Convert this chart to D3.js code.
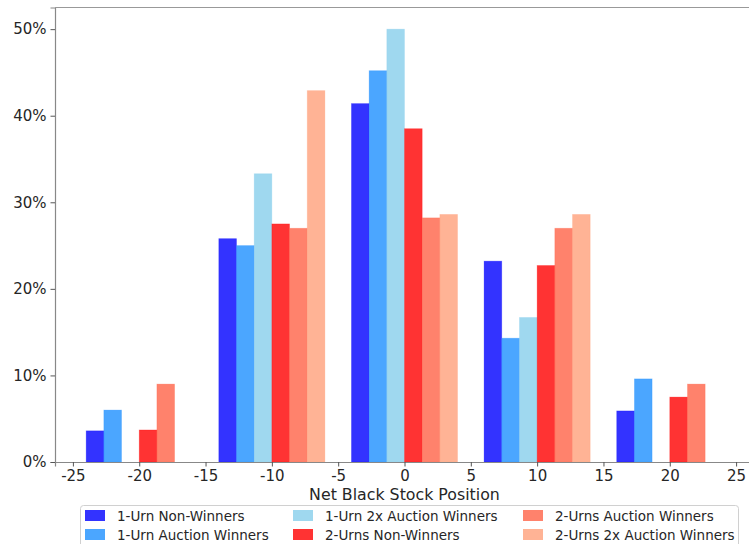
<!DOCTYPE html>
<html><head><meta charset="utf-8">
<script src="https://cdn.jsdelivr.net/npm/d3@7"></script>
<style>body{margin:0;background:#fff}svg{display:block;font-family:"DejaVu Sans",sans-serif}</style>
</head><body><svg id="c" width="749" height="544"></svg>
<script>
const groups = [-20, -10, 0, 10, 20];
const seriesNames = ["1-Urn Non-Winners","1-Urn Auction Winners","1-Urn 2x Auction Winners","2-Urns Non-Winners","2-Urns Auction Winners","2-Urns 2x Auction Winners"];
const seriesColors = ["#0000ff","#1e90ff","#87ceeb","#ff0000","#ff6347","#ffa07a"];
const urn1Non = [3.6, 25.8, 41.4, 23.2, 5.9];
const urn1Auction = [6.0, 25.0, 45.2, 14.3, 9.6];
const urn1x2 = [0, 33.3, 50.0, 16.7, 0];
const urns2Non = [3.7, 27.5, 38.5, 22.7, 7.5];
const urns2Auction = [9.0, 27.0, 28.2, 27.0, 9.0];
const urns2x2 = [0, 42.9, 28.6, 28.6, 0];
const seriesValues = [urn1Non, urn1Auction, urn1x2, urns2Non, urns2Auction, urns2x2];
const xTicks = [-25,-20,-15,-10,-5,0,5,10,15,20,25];
const yTicks = [0,10,20,30,40,50];

const svg = d3.select("#c");
const L=55, R=754, T=7.5, B=462;
const x = d3.scaleLinear().domain([-26.35, 26.35]).range([L, R]);
const y = d3.scaleLinear().domain([0, 52.5]).range([B, T]);
const bw = 8/6;

seriesValues.forEach((vals, si) => {
  svg.append("g").selectAll("rect").data(vals.map((v,i)=>({g:groups[i], v})))
    .join("rect")
    .attr("x", d => x(d.g - 4 + si*bw))
    .attr("width", d => x(d.g - 4 + (si+1)*bw) - x(d.g - 4 + si*bw))
    .attr("y", d => y(d.v))
    .attr("height", d => y(0) - y(d.v))
    .attr("fill", seriesColors[si]).attr("fill-opacity", 0.8)
    .attr("stroke", seriesColors[si]).attr("stroke-opacity", 0.3).attr("stroke-width", 0.8);
});

const xa = svg.append("g").attr("transform", `translate(0,${B})`)
  .call(d3.axisBottom(x).tickValues(xTicks).tickSize(4.5).tickPadding(4).tickFormat(d => d < 0 ? "-" + Math.abs(d) : d));
const ya = svg.append("g").attr("transform", `translate(${L},0)`)
  .call(d3.axisLeft(y).tickValues(yTicks).tickSize(4.5).tickPadding(4).tickFormat(d => d + "%"));
[xa, ya].forEach(a => {
  a.selectAll("text").attr("font-size", 15).attr("font-family", "DejaVu Sans").attr("fill", "#262626");
  a.selectAll("line").attr("stroke", "#555");
  a.select(".domain").attr("stroke", "#888").attr("stroke-width", 1.2);
});
// top spine
svg.append("line").attr("x1", L).attr("x2", R).attr("y1", T).attr("y2", T).attr("stroke", "#999").attr("stroke-width", 1.2);

svg.append("text").attr("x", (L+R)/2).attr("y", 500).attr("text-anchor", "middle")
  .attr("font-size", 15.8).attr("fill", "#262626").text("Net Black Stock Position");

// legend
const lg = svg.append("g");
lg.append("rect").attr("x", 80.5).attr("y", 505.5).attr("width", 658).attr("height", 50).attr("rx", 3)
  .attr("fill", "#fff").attr("fill-opacity", 0.8).attr("stroke", "#d0d0d0");
const colX = [85, 293, 523];
const rowY = [510, 529];
seriesNames.forEach((n, i) => {
  const c = Math.floor(i/2), r = i%2;
  lg.append("rect").attr("x", colX[c]).attr("y", rowY[r]).attr("width", 20).attr("height", 11)
    .attr("fill", seriesColors[i]).attr("fill-opacity", 0.8);
  lg.append("text").attr("x", colX[c] + 32).attr("y", rowY[r] + 10.5).attr("font-size", 13.5)
    .attr("fill", "#262626").text(n);
});
</script></body></html>
